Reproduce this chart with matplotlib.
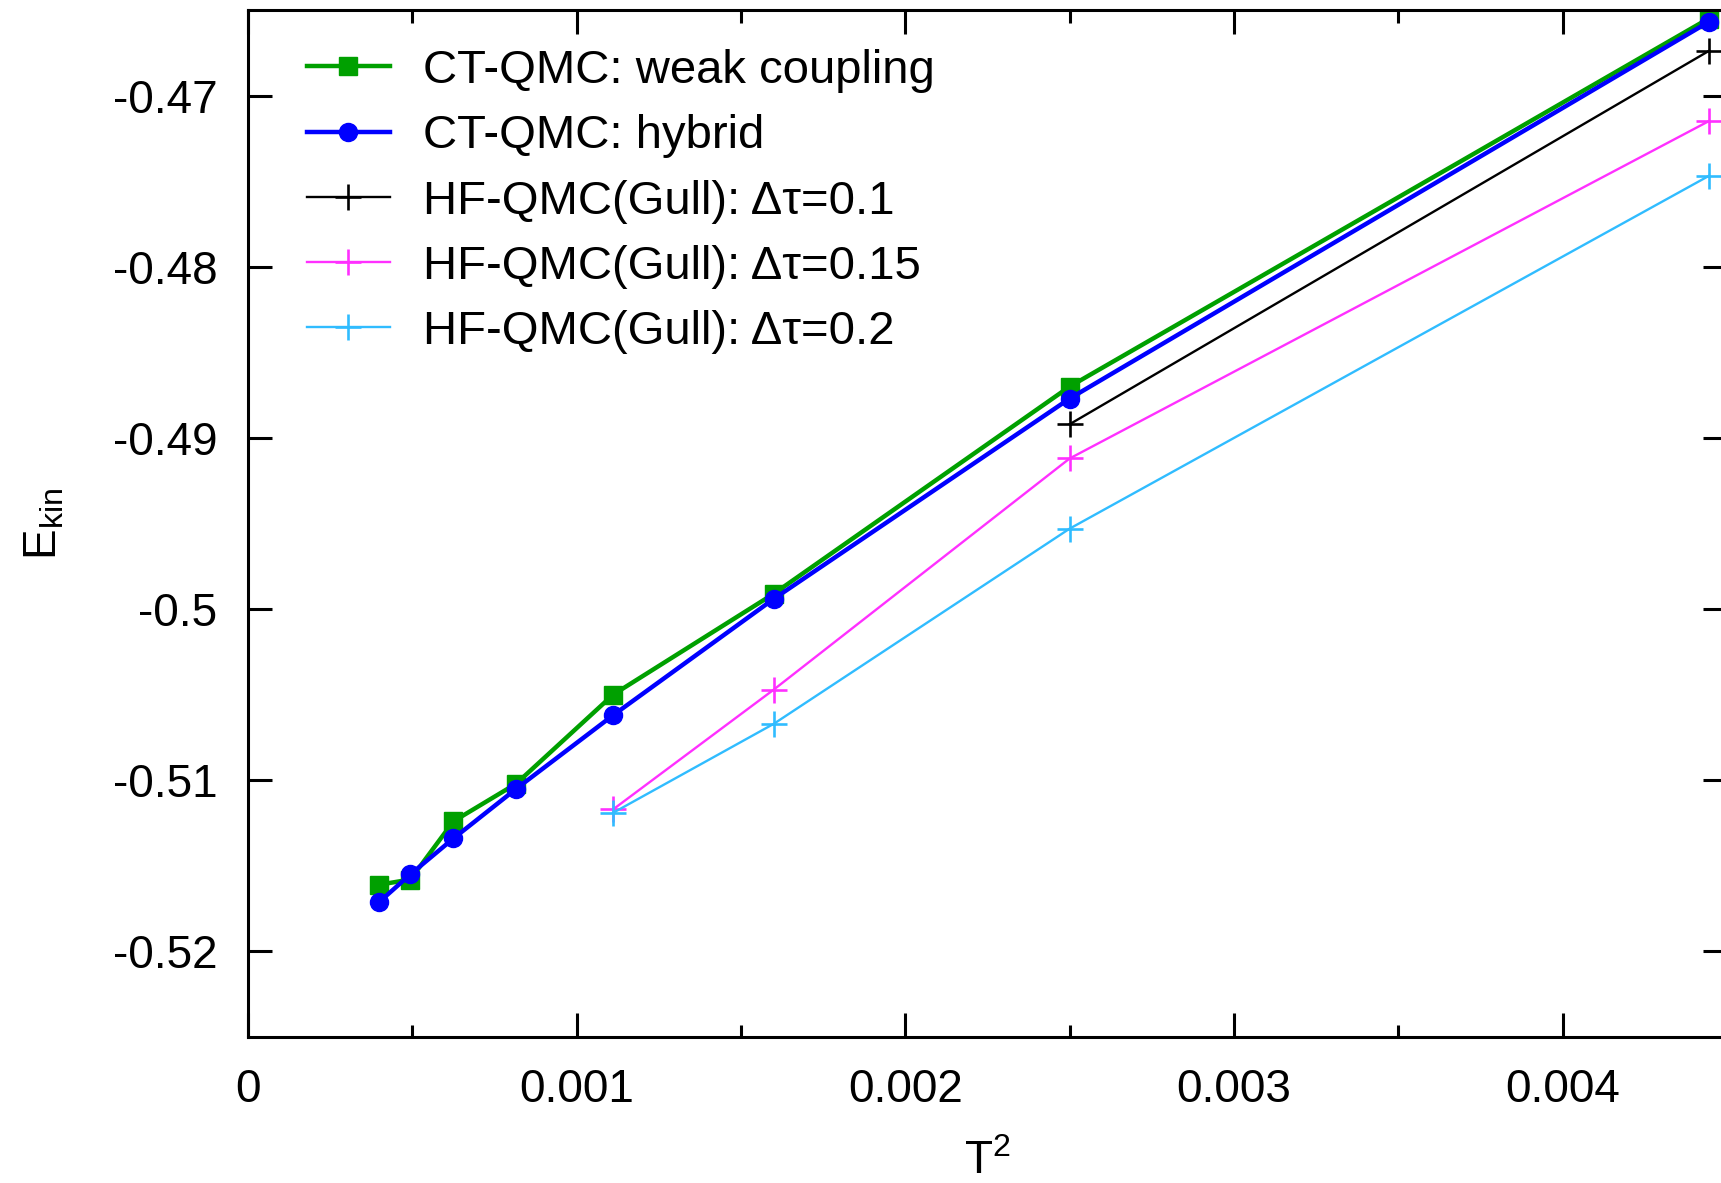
import matplotlib
matplotlib.use("Agg")
import matplotlib.pyplot as plt

plt.rcParams['font.family'] = ['Liberation Sans', 'DejaVu Sans']
plt.rcParams['mathtext.fontset'] = 'custom'
plt.rcParams['mathtext.rm'] = 'Liberation Sans'
plt.rcParams['mathtext.it'] = 'Liberation Sans'
plt.rcParams['mathtext.default'] = 'regular'

# Data
x_ct = [0.0004, 0.000494, 0.000625, 0.000816, 0.001111, 0.0016, 0.0025, 0.004444]
y_weak = [-0.5161, -0.5158, -0.5124, -0.5102, -0.5050, -0.4991, -0.4870, -0.4655]
y_hybrid = [-0.5171, -0.5155, -0.5134, -0.5105, -0.5062, -0.4994, -0.4877, -0.4657]

x_hf01 = [0.0025, 0.004444]
y_hf01 = [-0.4892, -0.4674]
x_hf015 = [0.001111, 0.0016, 0.0025, 0.004444]
y_hf015 = [-0.5117, -0.5047, -0.4912, -0.4715]
x_hf02 = [0.001111, 0.0016, 0.0025, 0.004444]
y_hf02 = [-0.5119, -0.5067, -0.4953, -0.4747]

labels = ["CT-QMC: weak coupling", "CT-QMC: hybrid",
          "HF-QMC(Gull): \u0394\u03c4=0.1", "HF-QMC(Gull): \u0394\u03c4=0.15",
          "HF-QMC(Gull): \u0394\u03c4=0.2"]
xticks = [0, 0.001, 0.002, 0.003, 0.004]
xticklabels = ["0", "0.001", "0.002", "0.003", "0.004"]
yticks = [-0.52, -0.51, -0.50, -0.49, -0.48, -0.47]
yticklabels = ["-0.52", "-0.51", "-0.5", "-0.49", "-0.48", "-0.47"]

W, H = 1721, 1183
fig = plt.figure(figsize=(W / 100, H / 100), dpi=100)
left, right, top, bottom = 248, 1727, 10, 1037
ax = fig.add_axes([left / W, 1 - bottom / H, (right - left) / W, (bottom - top) / H])

ax.plot(x_ct, y_weak, color='#00a000', lw=3.2, marker='s', ms=13, label=labels[0])
ax.plot(x_ct, y_hybrid, color='#0000ff', lw=3.2, marker='o', ms=13, label=labels[1])
ax.plot(x_hf01, y_hf01, color='black', lw=1.7, marker='+', ms=19, mew=1.9, label=labels[2])
ax.plot(x_hf015, y_hf015, color='#ff30ff', lw=1.7, marker='+', ms=19, mew=1.9, label=labels[3])
ax.plot(x_hf02, y_hf02, color='#30bcff', lw=1.7, marker='+', ms=19, mew=1.9, label=labels[4])

ax.set_xlim(0, 0.0045)
ax.set_ylim(-0.525, -0.465)
ax.set_xticks(xticks)
ax.set_xticklabels(xticklabels)
ax.set_xticks([0.0005, 0.0015, 0.0025, 0.0035, 0.0045], minor=True)
ax.set_yticks(yticks)
ax.set_yticklabels(yticklabels)

for s in ax.spines.values():
    s.set_linewidth(2.2)
ax.tick_params(which='both', direction='in', top=True, right=True, width=2.2)
ax.tick_params(which='major', length=17, labelsize=33)
ax.tick_params(which='minor', length=9)
ax.tick_params(axis='x', pad=22)
ax.tick_params(axis='y', pad=22)

ax.set_xlabel("T$^{2}$", fontsize=33)
ax.xaxis.set_label_coords(0.5, -0.1004)
ax.set_ylabel("E$_{kin}$", fontsize=33)
ax.yaxis.set_label_coords(-0.1225, 0.5)

leg = ax.legend(loc='upper left', bbox_to_anchor=(307 / W, 1 - 49 / H),
                bbox_transform=fig.transFigure, frameon=False, fontsize=34,
                handlelength=1.75, handletextpad=0.7, labelspacing=0.45,
                borderpad=0, borderaxespad=0)

fig.savefig("out.png", dpi=100)
